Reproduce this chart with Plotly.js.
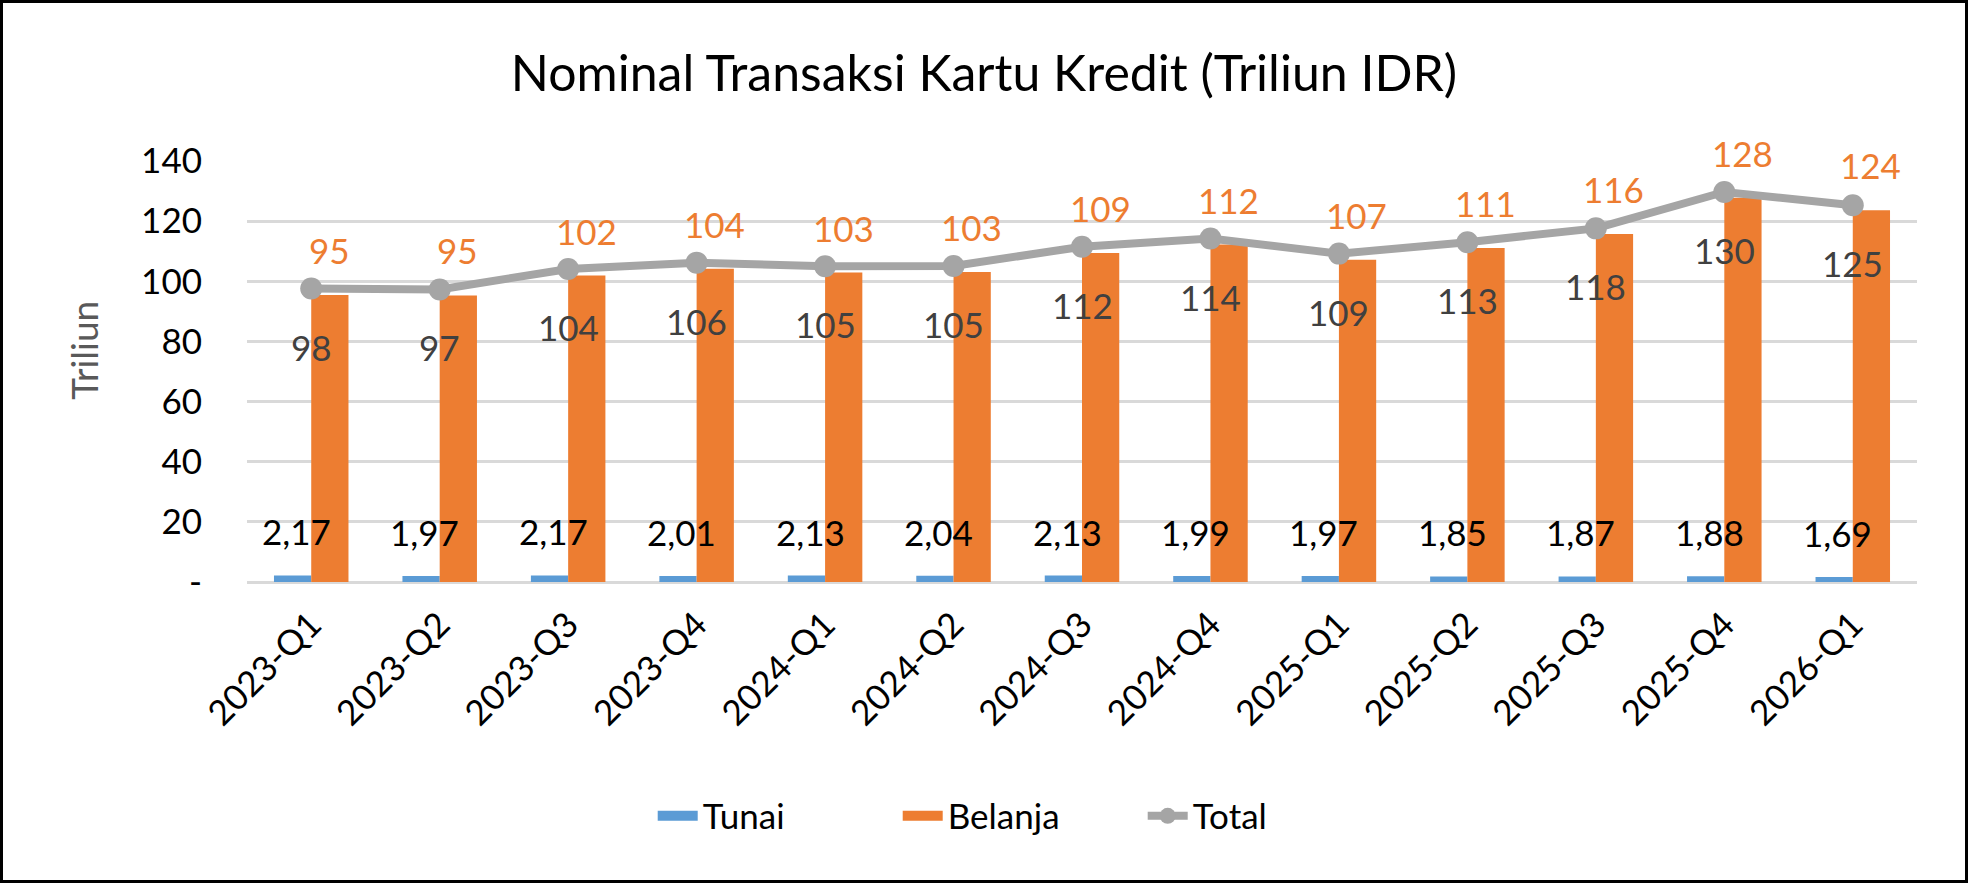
<!DOCTYPE html>
<html>
<head>
<meta charset="utf-8">
<script src="https://cdn.plot.ly/plotly-3.0.1.min.js"></script>
<style>
  body { margin: 0; background: #fff; }
  #wrap { position: relative; width: 1968px; height: 883px; }
  #frame { position: absolute; left: 0; top: 0; width: 1968px; height: 883px;
           box-sizing: border-box; border: 3px solid #000; pointer-events: none; }
</style>
</head>
<body>
<div id="wrap">
  <div id="chart"></div>
  <div id="frame"></div>
</div>
<script>
// quarters on the x axis
const quarters = ['2023-Q1', '2023-Q2', '2023-Q3', '2023-Q4', '2024-Q1', '2024-Q2', '2024-Q3',
                  '2024-Q4', '2025-Q1', '2025-Q2', '2025-Q3', '2025-Q4', '2026-Q1'];

// nominal, triliun IDR
const tunai   = [2.17, 1.97, 2.17, 2.01, 2.13, 2.04, 2.13, 1.99, 1.97, 1.85, 1.87, 1.88, 1.69];
const belanja = [95.4, 95.3, 101.9, 104.2, 102.9, 103.1, 109.4, 112.2, 107.2, 111.1, 115.7, 127.8, 123.6];
const total   = [97.6, 97.3, 104.1, 106.2, 105.0, 105.1, 111.5, 114.2, 109.2, 113.0, 117.6, 129.7, 125.3];

const yTicks      = [0, 20, 40, 60, 80, 100, 120, 140];
const yTickLabels = ['-', '20', '40', '60', '80', '100', '120', '140'];

const FONT = 'Lato, "Open Sans", sans-serif';
const BLUE = '#5B9BD5', ORANGE = '#ED7D31', GREY = '#A5A5A5';

let data = [
  {
    type: 'bar',
    name: 'Tunai',
    x: quarters,
    y: tunai,
    marker: {color: BLUE},
    legendgroup: 'tunai',
    showlegend: false,
    hoverinfo: 'x+y'
  },
  {
    type: 'bar',
    name: 'Belanja',
    x: quarters,
    y: belanja,
    marker: {color: ORANGE},
    legendgroup: 'belanja',
    showlegend: false,
    hoverinfo: 'x+y'
  },
  // wide swatches for the legend, like the Excel legend keys
  {
    type: 'scatter', mode: 'lines', name: 'Tunai',
    x: [null], y: [null], legendgroup: 'tunai',
    line: {color: BLUE, width: 10}, hoverinfo: 'skip'
  },
  {
    type: 'scatter', mode: 'lines', name: 'Belanja',
    x: [null], y: [null], legendgroup: 'belanja',
    line: {color: ORANGE, width: 10}, hoverinfo: 'skip'
  },
  {
    type: 'scatter',
    mode: 'lines+markers',
    name: 'Total',
    x: quarters,
    y: total,
    line: {color: GREY, width: 8},
    marker: {color: GREY, size: 22},
    hoverinfo: 'x+y'
  }
];

// data labels, Excel style (comma decimal)
let notes = [];
quarters.forEach(function (q, i) {
  notes.push({
    x: q, y: tunai[i], xref: 'x', yref: 'y',
    text: tunai[i].toFixed(2).replace('.', ','),
    showarrow: false, xshift: -15, yshift: 44, yanchor: 'middle',
    font: {family: FONT, size: 35, color: '#000'}
  });
  notes.push({
    x: q, y: belanja[i], xref: 'x', yref: 'y',
    text: Math.round(belanja[i]).toString(),
    showarrow: false, xshift: 18, yshift: 45, yanchor: 'middle',
    font: {family: FONT, size: 35, color: ORANGE}
  });
  notes.push({
    x: q, y: total[i], xref: 'x', yref: 'y',
    text: Math.round(total[i]).toString(),
    showarrow: false, yshift: -58, yanchor: 'middle',
    font: {family: FONT, size: 35, color: '#404040'}
  });
});

// axis title, sits a little above the plot middle
notes.push({
  xref: 'paper', yref: 'paper', x: -0.098, y: 0.55,
  text: 'Triliun', textangle: -90, showarrow: false,
  xanchor: 'center', yanchor: 'middle',
  font: {family: FONT, size: 37, color: '#595959'}
});

let layout = {
  width: 1968,
  height: 883,
  paper_bgcolor: '#fff',
  plot_bgcolor: '#fff',
  separators: ',.',
  font: {family: FONT, size: 35, color: '#000'},
  margin: {l: 247, r: 51, t: 161, b: 301, pad: 0},
  title: {
    text: 'Nominal Transaksi Kartu Kredit (Triliun IDR)',
    font: {family: FONT, size: 50, color: '#000'},
    x: 0.5, xref: 'container', xanchor: 'center',
    y: 1 - 73 / 883, yref: 'container', yanchor: 'middle'
  },
  barmode: 'group',
  bargap: 0.42,
  bargroupgap: 0,
  showlegend: true,
  legend: {
    orientation: 'h',
    x: 0.463, xanchor: 'center',
    y: -0.556, yanchor: 'middle',
    font: {family: FONT, size: 35, color: '#000'},
    itemwidth: 40,
    entrywidth: 190,
    entrywidthmode: 'pixels',
    traceorder: 'normal'
  },
  xaxis: {
    type: 'category',
    range: [-0.5, quarters.length - 0.5],
    tickangle: -45,
    showgrid: false,
    showline: false,
    zeroline: false,
    ticks: '',
    ticklabelstandoff: 14,
    tickfont: {family: FONT, size: 35, color: '#000'}
  },
  yaxis: {
    range: [0, 140],
    tickvals: yTicks,
    ticktext: yTickLabels,
    showgrid: true,
    gridcolor: '#D9D9D9',
    gridwidth: 2.5,
    zeroline: true,
    zerolinecolor: '#D9D9D9',
    zerolinewidth: 2.5,
    showline: false,
    ticks: '',
    ticklabelstandoff: 44,
    tickfont: {family: FONT, size: 35, color: '#000'}
  },
  annotations: notes
};

Plotly.newPlot('chart', data, layout, {displayModeBar: false, responsive: false});
</script>
</body>
</html>
